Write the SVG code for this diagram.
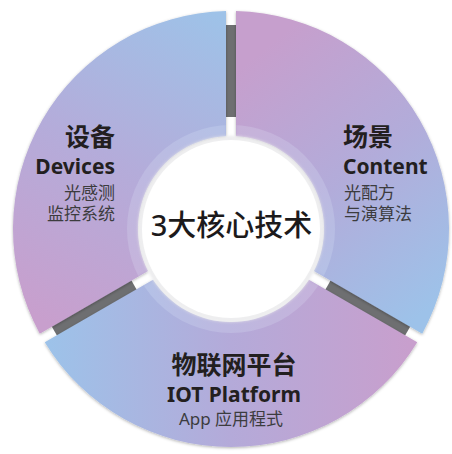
<svg xmlns="http://www.w3.org/2000/svg" width="452" height="454" viewBox="0 0 452 454">
  <defs>
    <linearGradient id="gDev" gradientUnits="userSpaceOnUse" x1="226" y1="20" x2="60" y2="330">
      <stop offset="0" stop-color="#9ec2e8"/>
      <stop offset="0.5" stop-color="#b4acda"/>
      <stop offset="1" stop-color="#c89fcd"/>
    </linearGradient>
    <linearGradient id="gCon" gradientUnits="userSpaceOnUse" x1="250" y1="60" x2="440" y2="300">
      <stop offset="0" stop-color="#c69fcd"/>
      <stop offset="0.5" stop-color="#b2acda"/>
      <stop offset="1" stop-color="#9dc2e9"/>
    </linearGradient>
    <linearGradient id="gIot" gradientUnits="userSpaceOnUse" x1="50" y1="0" x2="410" y2="0">
      <stop offset="0" stop-color="#9dc2e9"/>
      <stop offset="0.5" stop-color="#b4aad9"/>
      <stop offset="1" stop-color="#c89fcd"/>
    </linearGradient>
    <radialGradient id="gWhite" cx="231" cy="229" r="94" gradientUnits="userSpaceOnUse">
      <stop offset="0" stop-color="#ffffff"/>
      <stop offset="0.86" stop-color="#ffffff"/>
      <stop offset="1" stop-color="#e6e6e8"/>
    </radialGradient>
    <filter id="shadow" x="-10%" y="-10%" width="120%" height="120%">
      <feDropShadow dx="0" dy="1" stdDeviation="1.6" flood-color="#000" flood-opacity="0.3"/>
    </filter>
    <filter id="soft" x="-10%" y="-10%" width="120%" height="120%">
      <feGaussianBlur stdDeviation="1.5"/>
    </filter>
    <clipPath id="bandClip">
      <circle cx="231" cy="229" r="104"/>
    </clipPath>
    <path id="pDev" d="M 39.76 333.64 A 218 218 0 0 1 226 11.06 L 226 136.13 A 93 93 0 0 0 148.08 271.10 Z"/>
    <path id="pCon" d="M 236 11.06 A 218 218 0 0 1 422.24 333.64 L 313.92 271.10 A 93 93 0 0 0 236 136.13 Z"/>
    <path id="pIot" d="M 417.25 342.30 A 218 218 0 0 1 44.75 342.30 L 153.08 279.76 A 93 93 0 0 0 308.92 279.76 Z"/>
  </defs>
  <style>
    .sep { fill: #6e6f71; }
    .head { font-family: "Noto Sans", "Noto Sans CJK SC", sans-serif; font-weight: 700; fill: #231f20; }
    .cjkh { font-size: 25px; }
    .lat { font-size: 21px; }
    .sub { font-family: "Noto Sans", "Noto Sans CJK SC", sans-serif; font-weight: 400; font-size: 17px; fill: #3c3c3e; }
    .band { fill: #eaf2ff; fill-opacity: 0.18; }
  </style>
  <rect width="452" height="454" fill="#ffffff"/>

  <g id="connectors">
    <g transform="translate(231,229)">
      <rect class="sep" x="-6" y="-204" width="12" height="92"/>
      <rect class="sep" x="-6" y="-204" width="12" height="92" transform="rotate(120)"/>
      <rect class="sep" x="-6" y="-204" width="12" height="92" transform="rotate(-120)"/>
    </g>
  </g>

  <g id="devices">
    <use href="#pDev" fill="url(#gDev)" filter="url(#shadow)"/>
    <g clip-path="url(#bandClip)"><use href="#pDev" class="band" filter="url(#soft)"/></g>
    <text class="head cjkh" x="115" y="146" text-anchor="end">设备</text>
    <text class="head lat" x="115" y="174" text-anchor="end">Devices</text>
    <text class="sub" x="115" y="199" text-anchor="end">光感测</text>
    <text class="sub" x="115" y="220" text-anchor="end">监控系统</text>
  </g>

  <g id="content">
    <use href="#pCon" fill="url(#gCon)" filter="url(#shadow)"/>
    <g clip-path="url(#bandClip)"><use href="#pCon" class="band" filter="url(#soft)"/></g>
    <text class="head cjkh" x="343" y="146">场景</text>
    <text class="head lat" x="343" y="174">Content</text>
    <text class="sub" x="344" y="199">光配方</text>
    <text class="sub" x="344" y="220">与演算法</text>
  </g>

  <g id="iot">
    <use href="#pIot" fill="url(#gIot)" filter="url(#shadow)"/>
    <g clip-path="url(#bandClip)"><use href="#pIot" class="band" filter="url(#soft)"/></g>
    <text class="head cjkh" x="234" y="374" text-anchor="middle">物联网平台</text>
    <text class="head lat" x="234" y="402" text-anchor="middle">IOT Platform</text>
    <text class="sub" x="231" y="425" text-anchor="middle">App 应用程式</text>
  </g>

  <g id="center">
    <circle cx="231" cy="229" r="93" fill="url(#gWhite)" filter="url(#soft)"/>
    <circle cx="231" cy="229" r="89" fill="#ffffff"/>
    <text x="231.5" y="236" text-anchor="middle" font-family="Noto Sans, Noto Sans CJK SC, sans-serif" font-weight="500" font-size="29" fill="#1c1a1b">3大核心技术</text>
  </g>
</svg>
